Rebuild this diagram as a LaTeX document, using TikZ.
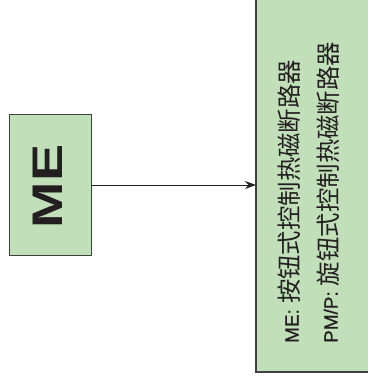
\documentclass[tikz,border=0pt]{standalone}
\usepackage{fontspec}
\setmainfont{Liberation Sans}
\newfontfamily\latinmed[FakeBold=0.8]{Liberation Sans}
\newfontfamily\cjk{Noto Sans CJK SC}
\usetikzlibrary{arrows.meta}
\definecolor{boxgreen}{RGB}{193,224,186}
\definecolor{edgegray}{RGB}{64,64,64}
\definecolor{inkblack}{RGB}{35,31,32}
\tikzset{
  greenbox/.style={draw=edgegray, fill=boxgreen, line width=1.2bp},
  link/.style={draw=inkblack, line width=0.9bp, -{Stealth[length=11bp,width=8bp]}},
  sidetext/.style={rotate=90, anchor=base west, inner sep=0pt, text=inkblack}
}
\begin{document}
\begin{tikzpicture}[x=1bp,y=1bp]
\useasboundingbox (0,0) rectangle (368,378);
\clip (0,0) rectangle (368,378);
% left box
\node[greenbox, minimum width=82bp, minimum height=141bp, inner sep=0pt, anchor=south west] (me) at (9,122) {};
\node[rotate=90, inner sep=0pt, text=inkblack, xscale=1.3] (melabel) at (47.5,191.5)
  {\fontsize{43}{45}\selectfont\bfseries ME};
% right box
\draw[greenbox] (256,6) rectangle (380,390);
\coordinate (rbin) at (256,193);
\coordinate (meout) at (91,193);
\draw[link] (meout) -- (rbin);
% texts
\node[sidetext] (t1) at (298.5,35)
  {\latinmed\fontsize{19}{21}\selectfont ME:\ {\cjk\fontsize{24.5}{27}\selectfont 按钮式控制热磁断路器}};
\node[sidetext] (t2) at (337.5,35)
  {\latinmed\fontsize{19}{21}\selectfont PM/P:\ {\cjk\fontsize{24.5}{27}\selectfont 旋钮式控制热磁断路器}};
\end{tikzpicture}
\end{document}
